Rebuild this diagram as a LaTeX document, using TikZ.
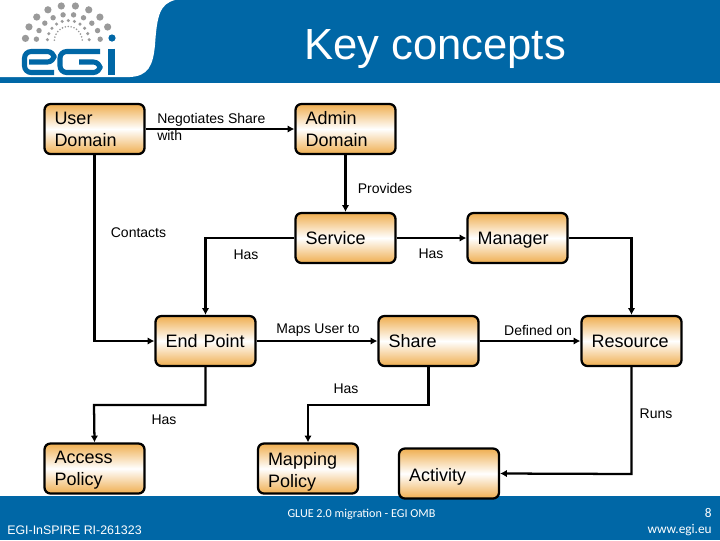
\documentclass[tikz,border=0pt]{standalone}
\usepackage{fontspec}
\setmainfont{Liberation Sans}
\newfontfamily\footfont{Carlito}
\usepackage{tikz}
\usetikzlibrary{arrows.meta}
\definecolor{egiblue}{HTML}{0067A6}
\definecolor{boxorange}{HTML}{EFAE50}
\definecolor{dotgrey}{HTML}{9A9A9A}
\tikzset{%
  link/.style = {-{Latex[length=5pt,width=5.5pt]},line width=1.7pt},
  conc/.style = {rectangle,rounded corners=4.5pt,draw,line width=1.7pt,
        top color=boxorange,bottom color=boxorange,middle color=white,
        text width=60pt,inner xsep=7.5pt,inner ysep=0pt,minimum height=37.5pt,
        align=left,font=\fontsize{13.5}{16.5}\selectfont,
        execute at begin node={\rule[-2.4pt]{0pt}{14.4pt}},
        execute at end node={\rule[-2.4pt]{0pt}{14.4pt}}},
  lowtext/.style = {execute at begin node={\rule[-2.4pt]{0pt}{16.9pt}}},
  lab/.style = {inner sep=0pt,align=left,font=\fontsize{10.5}{12.75}\selectfont},
  foot/.style = {inner sep=0pt,text=white,font=\footfont\fontsize{9.1}{11}\selectfont},
  logoline/.style = {egiblue,line width=3.8pt,rounded corners=5pt}
}
\begin{document}
\begin{tikzpicture}[x=0.75pt,y=-0.75pt]
\useasboundingbox (0,0) rectangle (720,540);
% header and footer
\fill[egiblue] (0,0) rectangle (720,82.5);
\fill[white] (0,77) -- (130,77) .. controls (148,76) and (153,66) .. (155,45)
    .. controls (157,15) and (160,4) .. (175,0) -- (0,0) -- cycle;
\fill[egiblue] (0,496) rectangle (720,540);
\node[inner sep=0pt,text=white,font=\fontsize{32.7}{36}\selectfont] (title) at (435,49) {Key concepts};
% logo
\foreach \rx/\ry/\dotr/\n/\stepang in {43/36/3.6/9/18.9,32/27/2.7/10/18.9,21/21/1.7/11/17,14/15/0.9/15/12.1}{
    \foreach \k in {1,...,\n}{
        \fill[dotgrey] ({68.3+\rx*cos(175-(\k-1)*\stepang)},{41.5-\ry*sin(175-(\k-1)*\stepang)}) circle (\dotr);
    }
}
\fill[egiblue] (112,38) circle (3.6);
\draw[logoline] (54,72.5) -- (24.5,72.5) -- (24.5,51.5) -- (54,51.5) -- (54,62) -- (29,62);
\draw[logoline] (100,51.5) -- (60,51.5) -- (60,72.5) -- (100,72.5) -- (100,62) -- (79,62);
\draw[egiblue,line width=4.8pt] (111.5,48.5) -- (111.5,75);
% boxes
\node[conc] (user) at (94.5,129) {User\\Domain};
\node[conc] (admin) at (345.5,129) {Admin\\Domain};
\node[conc] (service) at (345.5,238) {Service};
\node[conc] (manager) at (517.5,238) {Manager};
\node[conc] (endpoint) at (205.5,341) {End Point};
\node[conc] (share) at (428.5,341) {Share};
\node[conc] (resource) at (631.5,341) {Resource};
\node[conc] (access) at (94.5,468.5) {Access\\Policy};
\node[conc,lowtext] (mapping) at (308,468.5) {Mapping\\Policy};
\node[conc,lowtext] (activity) at (449,473.5) {Activity};
\coordinate (hasleft) at (94,405);
\coordinate (hasright) at (308,405);
\coordinate (runcorner) at (631.5,474);
\draw[link] (user) -- (admin);
\draw[link] (admin) -- (service);
\draw[link] (user.south) |- (endpoint.west);
\draw[link] (service.west) -| (endpoint.north);
\draw[link] (service) -- (manager);
\draw[link] (manager.east) -| (resource.north);
\draw[link] (endpoint) -- (share);
\draw[link] (share) -- (resource);
\draw[link] (endpoint.south) |- (hasleft) -- (access.north);
\draw[link] (share.south) |- (hasright) -- (mapping.north);
\draw[link] (resource.south) -- (runcorner) -- (activity.east);
% labels
\node[lab,anchor=west] (lnegotiates) at (157,126.5) {Negotiates Share\\with};
\node[lab] (lprovides) at (385,188.5) {Provides};
\node[lab] (lcontacts) at (138.5,233) {Contacts};
\node[lab] (lhasend) at (246,255) {Has};
\node[lab] (lhasman) at (431,254) {Has};
\node[lab] (lmaps) at (318,330) {Maps User to};
\node[lab] (ldefined) at (538,330) {Defined on};
\node[lab] (lhasshare) at (346,388.5) {Has};
\node[lab] (lhasacc) at (164,420) {Has};
\node[lab] (lruns) at (656,414) {Runs};
% footer text
\node[foot] (fglue) at (361.5,514) {GLUE 2.0 migration - EGI OMB};
\node[foot,anchor=west,font=\fontsize{9.3}{12}\selectfont] (fgrant) at (7,530) {EGI-InSPIRE RI-261323};
\node[foot,anchor=east,font=\footfont\fontsize{10}{12}\selectfont] (fpage) at (712,513) {8};
\node[foot,anchor=east,font=\footfont\fontsize{10}{12}\selectfont] (fweb) at (712,530) {www.egi.eu};
\end{tikzpicture}
\end{document}
